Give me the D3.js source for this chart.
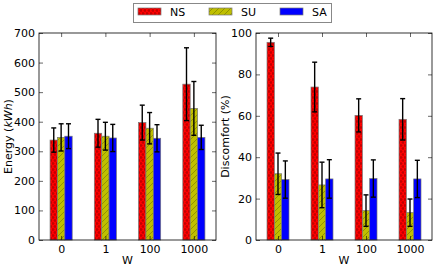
<!DOCTYPE html>
<html>
<head>
<meta charset="utf-8">
<script src="https://cdn.jsdelivr.net/npm/d3@7"></script>
<style>
  body { margin: 0; background: #fff; }
  text { font-family: "DejaVu Sans", sans-serif; }
</style>
</head>
<body>
<script>
// data
const groups = ["0", "1", "100", "1000"];
const series = ["NS", "SU", "SA"];

const energy = {
  NS: [338, 361, 397, 527],
  SU: [347, 351, 378, 445],
  SA: [351, 345, 344, 347]
};
const energyErr = {
  NS: [41, 47, 59, 123],
  SU: [46, 47, 53, 91],
  SA: [42, 46, 46, 41]
};
const discomfort = {
  NS: [95.5, 73.9, 60.2, 58.3],
  SU: [32.0, 26.6, 14.2, 13.2],
  SA: [29.2, 29.5, 29.7, 29.5]
};
const discomfortErr = {
  NS: [2, 12, 8, 10],
  SU: [10, 11, 7.6, 6.6],
  SA: [9, 9.3, 9, 9]
};
const energyTicks = [0, 100, 200, 300, 400, 500, 600, 700];
const discomfortTicks = [0, 20, 40, 60, 80, 100];

const colors = { NS: "#ff0000", SU: "#bfbf00", SA: "#0000ff" };

const W = 436, H = 269;
const svg = d3.select("body").append("svg").attr("width", W).attr("height", H);

// hatch patterns
const defs = svg.append("defs");
const pNS = defs.append("pattern").attr("id", "hatch-NS")
  .attr("patternUnits", "userSpaceOnUse").attr("width", 4).attr("height", 6);
pNS.append("rect").attr("width", 4).attr("height", 6).attr("fill", colors.NS);
pNS.append("circle").attr("cx", 1).attr("cy", 1.5).attr("r", 0.9)
  .attr("fill", "none").attr("stroke", "rgba(0,0,0,0.45)").attr("stroke-width", 0.6);
pNS.append("circle").attr("cx", 3).attr("cy", 4.5).attr("r", 0.9)
  .attr("fill", "none").attr("stroke", "rgba(0,0,0,0.45)").attr("stroke-width", 0.6);

const pSU = defs.append("pattern").attr("id", "hatch-SU")
  .attr("patternUnits", "userSpaceOnUse").attr("width", 6).attr("height", 6);
pSU.append("rect").attr("width", 6).attr("height", 6).attr("fill", colors.SU);
pSU.append("path").attr("d", "M0,6 L6,0 M-1,1 L1,-1 M5,7 L7,5")
  .attr("stroke", "rgba(0,0,0,0.4)").attr("stroke-width", 0.6);

const fillOf = s => s === "SA" ? colors.SA : `url(#hatch-${s})`;

function panel(left, right, top, bottom, values, errs, yMax, ticks, ylabel) {
  const x0 = d3.scaleBand().domain(groups).range([left, right]).padding(0);
  const x1 = d3.scaleBand().domain(series).range([0, x0.bandwidth()])
    .paddingInner(0).paddingOuter(1.5);
  const y = d3.scaleLinear().domain([0, yMax]).range([bottom, top]);

  const g = svg.append("g");

  const rows = [];
  series.forEach(s => groups.forEach((grp, i) => {
    rows.push({ s, grp, v: values[s][i], e: errs[s][i] });
  }));

  g.selectAll("rect.bar").data(rows).enter().append("rect")
    .attr("class", "bar")
    .attr("x", d => x0(d.grp) + x1(d.s))
    .attr("y", d => y(d.v))
    .attr("width", x1.bandwidth())
    .attr("height", d => y(0) - y(d.v))
    .attr("fill", d => fillOf(d.s))
    .attr("stroke", "#777")
    .attr("stroke-width", 0.7);

  // error bars
  const eb = g.selectAll("g.err").data(rows).enter().append("g")
    .attr("class", "err")
    .attr("stroke", "#000").attr("stroke-width", 1.4);
  const cx = d => x0(d.grp) + x1(d.s) + x1.bandwidth() / 2;
  eb.append("line")
    .attr("x1", cx).attr("x2", cx)
    .attr("y1", d => y(d.v - d.e)).attr("y2", d => y(d.v + d.e));
  eb.append("line")
    .attr("x1", d => cx(d) - 2.5).attr("x2", d => cx(d) + 2.5)
    .attr("y1", d => y(d.v + d.e)).attr("y2", d => y(d.v + d.e));
  eb.append("line")
    .attr("x1", d => cx(d) - 2.5).attr("x2", d => cx(d) + 2.5)
    .attr("y1", d => y(d.v - d.e)).attr("y2", d => y(d.v - d.e));

  // axes (ticks pointing inward, as in the original)
  const xTickScale = d3.scalePoint().domain(groups)
    .range([x0(groups[0]) + x0.bandwidth() / 2, x0(groups[3]) + x0.bandwidth() / 2]);
  const styleAxis = a => {
    a.select(".domain").remove();
    a.selectAll("line").attr("stroke", "#000").attr("stroke-width", 0.6);
    a.selectAll("text").attr("font-size", 11).attr("fill", "#000")
      .attr("font-family", "DejaVu Sans, sans-serif");
  };
  g.append("g").attr("transform", `translate(0,${bottom})`)
    .call(d3.axisBottom(xTickScale).tickSize(-4).tickPadding(5)).call(styleAxis);
  g.append("g").attr("transform", `translate(0,${top})`)
    .call(d3.axisTop(xTickScale).tickSize(-4).tickFormat("")).call(styleAxis);
  g.append("g").attr("transform", `translate(${left},0)`)
    .call(d3.axisLeft(y).tickValues(ticks).tickSize(-4).tickPadding(4)).call(styleAxis);
  g.append("g").attr("transform", `translate(${right},0)`)
    .call(d3.axisRight(y).tickValues(ticks).tickSize(-4).tickFormat("")).call(styleAxis);

  g.append("rect").attr("x", left).attr("y", top)
    .attr("width", right - left).attr("height", bottom - top)
    .attr("fill", "none").attr("stroke", "#000").attr("stroke-width", 0.8);

  g.append("text").attr("x", (left + right) / 2).attr("y", bottom + 24)
    .attr("text-anchor", "middle").attr("font-size", 11).text("W");

  const lab = g.append("text")
    .attr("transform", `translate(${left - 27},${(top + bottom) / 2}) rotate(-90)`)
    .attr("text-anchor", "middle").attr("font-size", 11);
  ylabel(lab);
}

panel(39, 216, 33, 240, energy, energyErr, 700, energyTicks, t => {
  t.append("tspan").text("Energy (");
  t.append("tspan").attr("font-style", "italic").text("kWh");
  t.append("tspan").text(")");
});
panel(256, 432, 33, 240, discomfort, discomfortErr, 100, discomfortTicks, t => {
  t.text("Discomfort (%)");
});

// legend
const legend = svg.append("g");
legend.append("rect").attr("x", 133.5).attr("y", 3.5).attr("width", 198).attr("height", 19)
  .attr("fill", "#fff").attr("stroke", "#888").attr("stroke-width", 1);
const lx = d3.scalePoint().domain(series).range([138, 280]);
const items = legend.selectAll("g.item").data(series).enter().append("g")
  .attr("transform", d => `translate(${lx(d)},0)`);
items.append("rect").attr("x", 0).attr("y", 8).attr("width", 23).attr("height", 7)
  .attr("fill", d => fillOf(d)).attr("stroke", "#777").attr("stroke-width", 0.7);
items.append("text").attr("x", 32).attr("y", 16).attr("font-size", 11).text(d => d);
</script>
</body>
</html>
